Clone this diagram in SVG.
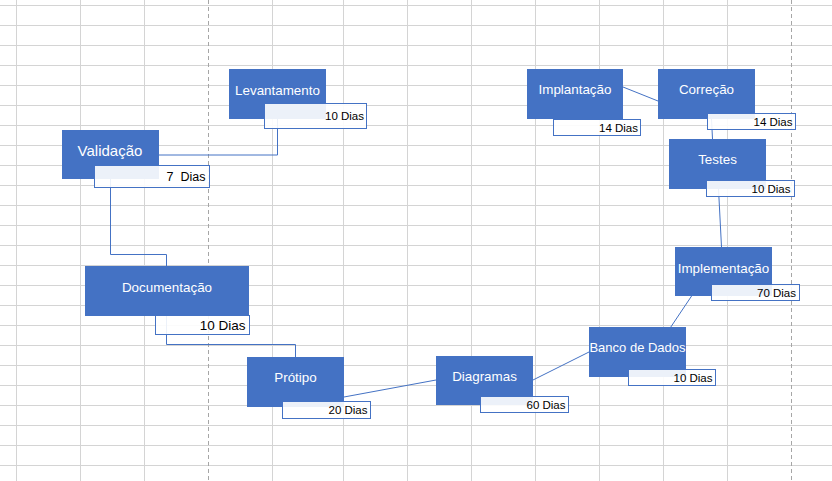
<svg xmlns="http://www.w3.org/2000/svg" width="832" height="481" viewBox="0 0 832 481">
<style>
.g{stroke:#d4d4d4;stroke-width:1}
.d{stroke:#a6a6a6;stroke-width:1;stroke-dasharray:4 3}
.n{fill:#4472c4}
.lb{fill:#ffffff;fill-opacity:0.9;stroke:#4472c4;stroke-width:1}
.t{font-family:"Liberation Sans",Arial,sans-serif;font-size:13.4px;fill:#ffffff;text-anchor:middle}
.s{font-family:"Liberation Sans",Arial,sans-serif;font-size:11.5px;fill:#000000;text-anchor:end}
.c{fill:none;stroke:#4472c4;stroke-width:1}
</style>
<rect width="832" height="481" fill="#ffffff"/>
<g id="grid">
<path class="g" d="M0,5.5H832M0,25.5H832M0,45.5H832M0,65.5H832M0,85.5H832M0,105.5H832M0,125.5H832M0,145.5H832M0,165.5H832M0,185.5H832M0,205.5H832M0,225.5H832M0,245.5H832M0,265.5H832M0,285.5H832M0,305.5H832M0,325.5H832M0,345.5H832M0,365.5H832M0,385.5H832M0,405.5H832M0,425.5H832M0,445.5H832M0,465.5H832"/>
<path class="g" d="M16.5,0V481M80.5,0V481M144.5,0V481M272.5,0V481M343.5,0V481M407.5,0V481M471.5,0V481M535.5,0V481M599.5,0V481M663.5,0V481M727.5,0V481"/>
<path class="d" d="M208.5,0V481M791.5,0V481"/>
</g>
<g id="connectors">
<path class="c" d="M277.5,119V155H159"/>
<path class="c" d="M110.5,179V254.5H166.5V266"/>
<path class="c" d="M166.5,316V344.5H295.5V357"/>
<path class="c" d="M344,397L436,380"/>
<path class="c" d="M533,380L589,352"/>
<path class="c" d="M670.8,327L691.6,296"/>
<path class="c" d="M718.5,189L721.5,247"/>
<path class="c" d="M711.5,119L712.5,139"/>
<path class="c" d="M623,87L658,101"/>
</g>
<g id="levantamento">
<rect class="n" x="229" y="69" width="97" height="50"/>
<rect class="lb" x="264.5" y="103.5" width="102" height="25"/>
<text class="t" x="277.5" y="94.5">Levantamento</text>
<text class="s" x="364" y="119.5">10 Dias</text>
</g>
<g id="validacao">
<rect class="n" x="62" y="130" width="97" height="49"/>
<rect class="lb" x="94.5" y="165.5" width="115" height="22"/>
<text class="t" x="110" y="156" style="font-size:15px">Validação</text>
<text class="s" x="205.5" y="180.5" style="font-size:12.5px;white-space:pre">7  Dias</text>
</g>
<g id="documentacao">
<rect class="n" x="85" y="266" width="164" height="50"/>
<rect class="lb" x="155.5" y="315.5" width="94" height="19"/>
<text class="t" x="167" y="292">Documentação</text>
<text class="s" x="245.5" y="329.5" style="font-size:13.5px">10 Dias</text>
</g>
<g id="protipo">
<rect class="n" x="247" y="357" width="97" height="50"/>
<rect class="lb" x="282.5" y="401.5" width="88" height="17"/>
<text class="t" x="295.5" y="382">Prótipo</text>
<text class="s" x="367.5" y="413.5">20 Dias</text>
</g>
<g id="diagramas">
<rect class="n" x="436" y="356" width="97" height="49"/>
<rect class="lb" x="480.5" y="396.5" width="88" height="16"/>
<text class="t" x="484.5" y="381">Diagramas</text>
<text class="s" x="565.5" y="408.5">60 Dias</text>
</g>
<g id="banco-de-dados">
<rect class="n" x="589" y="327" width="97" height="50"/>
<rect class="lb" x="628.5" y="369.5" width="87" height="16"/>
<text class="t" x="637.5" y="352" style="font-size:13px">Banco de Dados</text>
<text class="s" x="712.5" y="381.5">10 Dias</text>
</g>
<g id="implementacao">
<rect class="n" x="675" y="247" width="97" height="49"/>
<rect class="lb" x="711.5" y="284.5" width="88" height="16"/>
<text class="t" x="723.5" y="272.5">Implementação</text>
<text class="s" x="796" y="296.5">70 Dias</text>
</g>
<g id="testes">
<rect class="n" x="669" y="139" width="97" height="50"/>
<rect class="lb" x="706.5" y="180.5" width="88" height="16"/>
<text class="t" x="717.5" y="164">Testes</text>
<text class="s" x="790.5" y="192.5">10 Dias</text>
</g>
<g id="correcao">
<rect class="n" x="658" y="69" width="97" height="50"/>
<rect class="lb" x="707.5" y="113.5" width="88" height="16"/>
<text class="t" x="706.5" y="94">Correção</text>
<text class="s" x="792.5" y="126">14 Dias</text>
</g>
<g id="implantacao">
<rect class="n" x="527" y="69" width="96" height="50"/>
<rect class="lb" x="553.5" y="119.5" width="87" height="16"/>
<text class="t" x="575" y="94">Implantação</text>
<text class="s" x="638" y="131.5">14 Dias</text>
</g>
</svg>
